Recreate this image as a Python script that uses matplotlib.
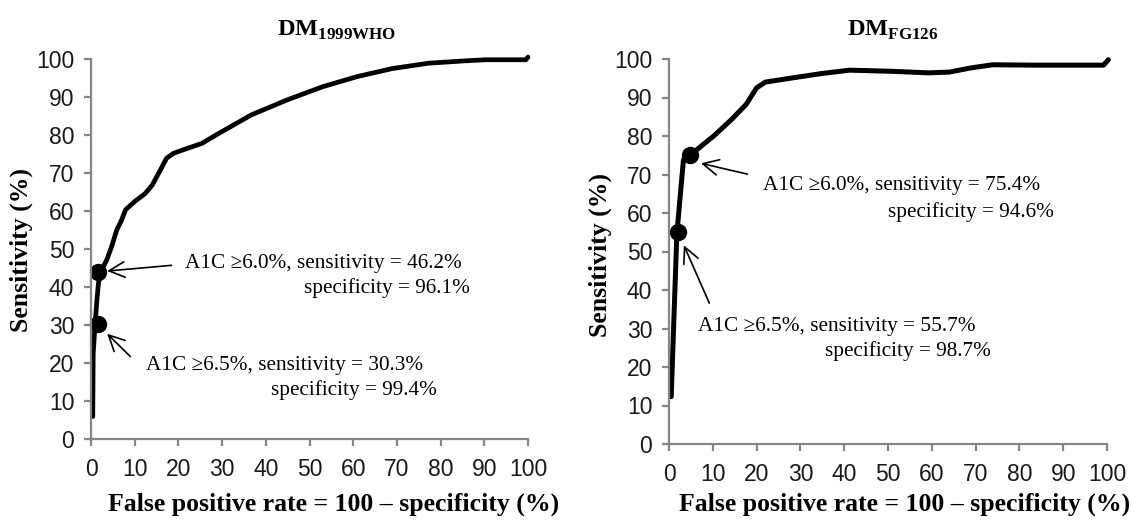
import matplotlib
matplotlib.use('Agg')

import matplotlib.pyplot as plt

# ROC curve, DM 1999 WHO (false positive rate %, sensitivity %)
who_fpr = [0.4, 0.5, 0.9, 1.3, 1.7, 2.4, 3.6, 4.7, 5.9, 7.0, 7.9, 10.0, 12.4, 14.0,
           15.7, 17.3, 18.9, 22.1, 25.4, 28.6, 36.7, 44.8, 53.0, 61.0, 69.0, 77.3,
           85.4, 90.3, 99.5, 100.0]
who_sens = [5.9, 22.5, 29.6, 35.8, 41.0, 44.5, 47.1, 50.6, 55.0, 57.6, 60.3, 62.5, 64.6, 66.8,
            70.4, 73.9, 75.2, 76.5, 77.8, 80.0, 85.3, 89.2, 92.7, 95.4, 97.5, 98.9,
            99.5, 99.8, 99.8, 100.5]

# ROC curve, DM FG126
fg_fpr = [0.5, 1.8, 3.3, 4.9, 10.2, 14.3, 17.6, 20.0, 22.0, 26.5, 34.7, 41.2, 51.0,
          59.2, 64.0, 69.0, 73.9, 83.7, 99.2, 100.3]
fg_sens = [12.3, 54.7, 73.8, 75.1, 80.0, 84.3, 88.2, 92.5, 94.0, 94.8, 96.2, 97.1, 96.8,
           96.4, 96.6, 97.7, 98.5, 98.4, 98.4, 99.8]

# highlighted cut-offs (A1C >= 6.0 %, A1C >= 6.5 %)
who_pts_x = [1.6, 1.6]
who_pts_y = [44.0, 30.3]
fg_pts_x = [4.9, 2.0]
fg_pts_y = [75.0, 55.0]

who_lab = [("A1C \u22656.0%, sensitivity = 46.2%", "specificity = 96.1%"),
           ("A1C \u22656.5%, sensitivity = 30.3%", "specificity = 99.4%")]
fg_lab = [("A1C \u22656.0%, sensitivity = 75.4%", "specificity = 94.6%"),
          ("A1C \u22656.5%, sensitivity = 55.7%", "specificity = 98.7%")]

ticks = list(range(0, 101, 10))

plt.rcParams['mathtext.fontset'] = 'custom'
plt.rcParams['mathtext.bf'] = 'Liberation Serif:bold'
plt.rcParams['mathtext.rm'] = 'Liberation Serif'

W, H = 1131, 521
fig = plt.figure(figsize=(W / 100, H / 100), dpi=100)

ax1 = fig.add_axes([91 / W, 1 - 439 / H, 437 / W, 380 / H])
ax2 = fig.add_axes([669 / W, 1 - 444 / H, 438 / W, 385 / H])

serif = 'Liberation Serif'
grey = '#858585'


def style(ax):
    ax.set_xlim(0, 100)
    ax.set_ylim(0, 100)
    ax.set_xticks(ticks)
    ax.set_yticks(ticks)
    for s in ['top', 'right']:
        ax.spines[s].set_visible(False)
    for s in ['left', 'bottom']:
        ax.spines[s].set_color(grey)
        ax.spines[s].set_linewidth(1.6)
    ax.tick_params(colors=grey, width=1.6, length=5, labelsize=16.5,
                   labelcolor='#1a1a1a')
    ax.tick_params(axis='x', pad=9)
    ax.tick_params(axis='y', pad=7)
    for lab in ax.get_xticklabels() + ax.get_yticklabels():
        lab.set_family('Liberation Sans')


def annotate(ax, tip, tail, line1, start1, line2, end2):
    ax.annotate('', xy=tip, xytext=tail,
                arrowprops=dict(arrowstyle='->', color='black', lw=1.2,
                                mutation_scale=28, shrinkA=0, shrinkB=0))
    ax.text(start1[0], start1[1], line1, family=serif, fontsize=15.3,
            ha='left', va='center')
    ax.text(end2[0], end2[1], line2, family=serif, fontsize=15.3,
            ha='right', va='center')


style(ax1)
ax1.plot(who_fpr, who_sens, color='black', lw=3.4, solid_capstyle='round',
         clip_on=False)
ax1.plot(who_pts_x, who_pts_y, 'o', color='black', ms=11.5, clip_on=False)
annotate(ax1, (3.7, 44.2), (18.4, 45.7), who_lab[0][0], (21.6, 46.1),
         who_lab[0][1], (86.8, 39.8))
annotate(ax1, (3.7, 27.7), (9.0, 21.7), who_lab[1][0], (12.7, 19.4),
         who_lab[1][1], (79.2, 12.9))

style(ax2)
ax2.plot(fg_fpr, fg_sens, color='black', lw=3.6, solid_capstyle='round',
         clip_on=False)
ax2.plot(fg_pts_x, fg_pts_y, 'o', color='black', ms=11.5, clip_on=False)
annotate(ax2, (7.3, 72.9), (17.9, 70.1), fg_lab[0][0], (21.5, 67.2),
         fg_lab[0][1], (87.8, 60.3))
annotate(ax2, (3.4, 51.6), (9.2, 36.6), fg_lab[1][0], (6.6, 30.6),
         fg_lab[1][1], (73.4, 24.2))

# titles and axis labels
fig.text(277 / W, 1 - 30 / H, r'$\mathbf{DM}_{\mathbf{1999WHO}}$', fontsize=17.5,
         ha='left', va='center')
fig.text(847 / W, 1 - 30 / H, r'$\mathbf{DM}_{\mathbf{FG126}}$', fontsize=17.5,
         ha='left', va='center')

xlab = 'False positive rate = 100 \u2013 specificity (%)'
fig.text(334 / W, 1 - 504 / H, xlab, family=serif, weight='bold', fontsize=18.5,
         ha='center', va='center')
fig.text(905 / W, 1 - 504 / H, xlab, family=serif, weight='bold', fontsize=18.5,
         ha='center', va='center')
fig.text(21 / W, 1 - 250 / H, 'Sensitivity (%)', family=serif, weight='bold',
         fontsize=18.5, rotation=90, ha='center', va='center')
fig.text(600 / W, 1 - 255 / H, 'Sensitivity (%)', family=serif, weight='bold',
         fontsize=18.5, rotation=90, ha='center', va='center')

fig.savefig('out.png', dpi=100)
plt.close(fig)
